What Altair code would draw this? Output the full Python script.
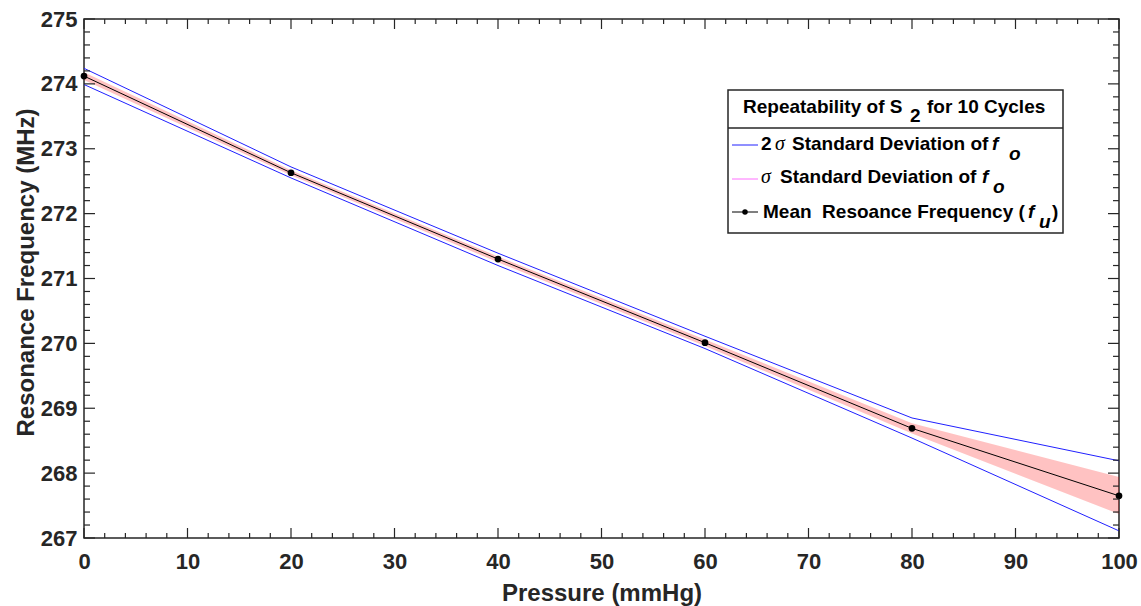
import altair as alt
import pandas as pd

# ---- data ----
pressure = [0, 20, 40, 60, 80, 100]
mean_freq = [274.12, 272.63, 271.30, 270.01, 268.69, 267.65]
two_sigma_upper = [274.24, 272.72, 271.39, 270.11, 268.85, 268.19]
two_sigma_lower = [273.99, 272.55, 271.20, 269.92, 268.54, 267.11]
sigma_upper = [274.18, 272.67, 271.34, 270.06, 268.77, 267.94]
sigma_lower = [274.06, 272.59, 271.25, 269.96, 268.61, 267.37]

x_major = [0, 10, 20, 30, 40, 50, 60, 70, 80, 90, 100]
y_major = [267, 268, 269, 270, 271, 272, 273, 274, 275]
x_minor = [v for v in range(0, 101, 2) if v % 10 != 0]
y_minor = [round(267 + 0.2 * i, 1) for i in range(41) if i % 5 != 0]

W, H = 1035, 519
FONT = "Liberation Sans"
SERIF = "Liberation Serif"
AX = "#262626"
LFS = 19

df = pd.DataFrame({
    "P": pressure, "mean": mean_freq,
    "bu": two_sigma_upper, "bl": two_sigma_lower,
    "pu": sigma_upper, "pl": sigma_lower,
})

xs = alt.Scale(domain=[0, 100], nice=False, zero=False)
ys = alt.Scale(domain=[267, 275], nice=False, zero=False)

x_axis = alt.Axis(values=x_major, ticks=False, grid=False, domain=False,
                  labelFont=FONT, labelFontSize=22, labelFontWeight="bold",
                  labelColor=AX, labelPadding=13, labelFlush=False,
                  title="Pressure (mmHg)", titleFont=FONT, titleFontSize=24,
                  titleFontWeight="bold", titleColor=AX, titleY=62,
                  titleBaseline="alphabetic")
y_axis = alt.Axis(values=y_major, ticks=False, grid=False, domain=False, format="d",
                  labelFont=FONT, labelFontSize=22, labelFontWeight="bold",
                  labelColor=AX, labelPadding=7, labelFlush=False,
                  title="Resonance Frequency (MHz)", titleFont=FONT, titleFontSize=24,
                  titleFontWeight="bold", titleColor=AX, titleX=-51, titleY=253,
                  titleBaseline="alphabetic", titleAngle=-90)

base = alt.Chart(df)

band = base.mark_area(color="#ff0000", opacity=0.24).encode(
    x=alt.X("P:Q", scale=xs, axis=x_axis),
    y=alt.Y("pl:Q", scale=ys, axis=y_axis),
    y2="pu:Q",
)
blue_u = base.mark_line(color="#2020ff", strokeWidth=1).encode(
    x=alt.X("P:Q", scale=xs), y=alt.Y("bu:Q", scale=ys))
blue_l = base.mark_line(color="#2020ff", strokeWidth=1).encode(
    x=alt.X("P:Q", scale=xs), y=alt.Y("bl:Q", scale=ys))
mean_line = base.mark_line(color="#000000", strokeWidth=1).encode(
    x=alt.X("P:Q", scale=xs), y=alt.Y("mean:Q", scale=ys))
mean_pts = base.mark_circle(color="#000000", opacity=1, size=45).encode(
    x=alt.X("P:Q", scale=xs), y=alt.Y("mean:Q", scale=ys))

# ---- inward ticks on all four sides ----
def xticks(vals, length):
    d = alt.Chart(pd.DataFrame({"v": vals}))
    bot = d.mark_rule(color=AX, strokeWidth=1.2).encode(
        x=alt.X("v:Q", scale=xs), y=alt.value(H), y2=alt.value(H - length))
    top = d.mark_rule(color=AX, strokeWidth=1.2).encode(
        x=alt.X("v:Q", scale=xs), y=alt.value(0), y2=alt.value(length))
    return [bot, top]

def yticks(vals, length):
    d = alt.Chart(pd.DataFrame({"v": vals}))
    left = d.mark_rule(color=AX, strokeWidth=1.2).encode(
        y=alt.Y("v:Q", scale=ys), x=alt.value(0), x2=alt.value(length))
    right = d.mark_rule(color=AX, strokeWidth=1.2).encode(
        y=alt.Y("v:Q", scale=ys), x=alt.value(W), x2=alt.value(W - length))
    return [left, right]

ticks = xticks(x_major, 10) + xticks(x_minor, 5) + yticks(y_major, 11) + yticks(y_minor, 6)

# ---- legend (drawn box) ----
one = alt.Chart(pd.DataFrame({"a": [0]}))

def txt(s, x, y, size=LFS, font=FONT, weight="bold", style="normal"):
    return one.mark_text(text=s, align="left", baseline="alphabetic", font=font,
                         fontSize=size, fontWeight=weight, fontStyle=style,
                         color="#000000").encode(x=alt.value(x), y=alt.value(y))

NB = "\u00a0"
leg = [
    one.mark_rect(fill="white", stroke=AX, strokeWidth=1.5).encode(
        x=alt.value(644), x2=alt.value(979), y=alt.value(71), y2=alt.value(214)),
    one.mark_rule(color=AX, strokeWidth=1.5).encode(
        x=alt.value(644), x2=alt.value(979), y=alt.value(109)),
    txt("Repeatability of S", 659, 94),
    txt("2", 826, 103),
    txt("for 10 Cycles", 843, 94),
    # row 1
    one.mark_rule(color="#2020ff", strokeWidth=1).encode(
        x=alt.value(648), x2=alt.value(674), y=alt.value(126)),
    txt("2", 677, 131),
    txt("σ", 691, 131, size=20, font=SERIF, weight="normal", style="italic"),
    txt("Standard Deviation of", 708, 131),
    txt("f", 908, 131, style="italic"),
    txt("o", 925, 141, style="italic"),
    # row 2
    one.mark_rule(color="#ff70ff", strokeWidth=1).encode(
        x=alt.value(648), x2=alt.value(674), y=alt.value(160)),
    txt("σ", 677, 164, size=20, font=SERIF, weight="normal", style="italic"),
    txt("Standard Deviation of", 696, 164),
    txt("f", 898, 164, style="italic"),
    txt("o", 909, 174, style="italic"),
    # row 3
    one.mark_rule(color="#000000", strokeWidth=1).encode(
        x=alt.value(648), x2=alt.value(674), y=alt.value(193)),
    one.mark_circle(color="#000000", opacity=1, size=30).encode(
        x=alt.value(661), y=alt.value(193)),
    txt("Mean" + NB + NB + "Resoance Frequency (", 679, 199),
    txt("f", 944, 199, style="italic"),
    txt("u", 955, 209, style="italic"),
    txt(")", 968, 199),
]

chart = alt.layer(band, blue_u, blue_l, mean_line, mean_pts, *ticks, *leg).properties(
    width=W, height=H,
    padding={"left": 84, "top": 19, "right": 22, "bottom": 68},
    autosize=alt.AutoSizeParams(type="none"),
    background="white",
).configure_view(stroke=AX, strokeWidth=1.5)

chart.save("out.html", embed_options={"renderer": "svg", "actions": False})
